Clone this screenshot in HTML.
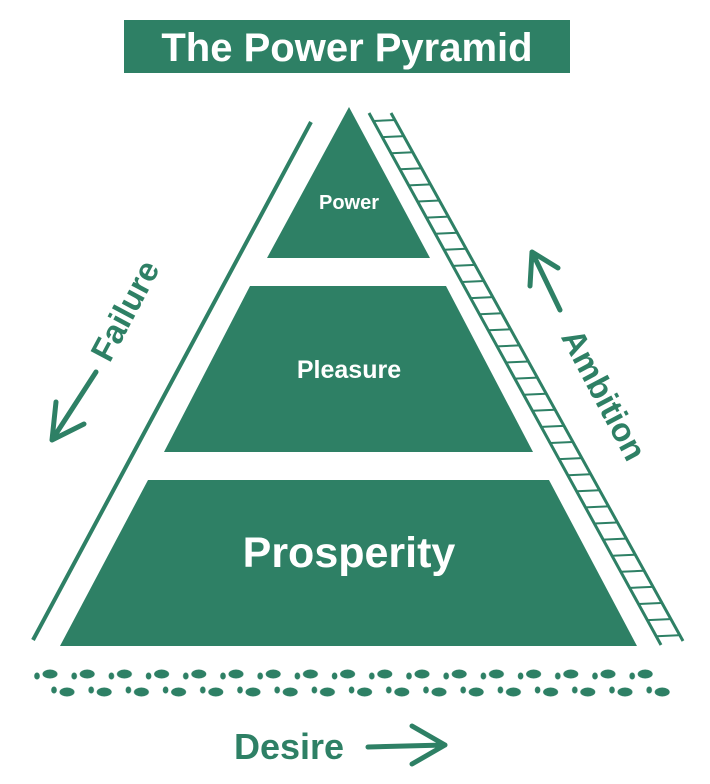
<!DOCTYPE html>
<html><head><style>body{margin:0;background:#fff}svg{display:block}</style></head><body>
<svg width="710" height="784" viewBox="0 0 710 784" xmlns="http://www.w3.org/2000/svg" font-family="Liberation Sans, sans-serif">
<defs>
<pattern id="f1" x="30" y="664" width="37.2" height="22" patternUnits="userSpaceOnUse">
<ellipse cx="7" cy="12" rx="2.8" ry="3.5" fill="#2e8065"/><ellipse cx="20" cy="10" rx="7.5" ry="4.5" fill="#2e8065"/>
</pattern>
<pattern id="f2" x="47" y="680" width="37.2" height="22" patternUnits="userSpaceOnUse">
<ellipse cx="7" cy="10" rx="2.8" ry="3.5" fill="#2e8065"/><ellipse cx="20" cy="12" rx="7.5" ry="4.5" fill="#2e8065"/>
</pattern>
</defs>
<rect x="124" y="20" width="446" height="53" fill="#2e8065"/>
<text x="347" y="61" text-anchor="middle" fill="#fff" font-size="40" font-weight="bold">The Power Pyramid</text>
<g fill="#2e8065">
<polygon points="349,107 430,258 267,258"/>
<polygon points="250,286 446,286 533,452 164,452"/>
<polygon points="148,480 549,480 637,646 60,646"/>
</g>
<line x1="311" y1="122" x2="33" y2="640" stroke="#2e8065" stroke-width="4"/>
<g stroke="#2e8065" stroke-width="3">
<line x1="369" y1="113" x2="661" y2="645"/>
<line x1="391" y1="113" x2="683" y2="641"/>
</g>
<path stroke="#2e8065" stroke-width="2" fill="none" d="M373.4,121l22,-1M382.3,137.1l22,-1M391.1,153.2l22,-1M400,169.3l22,-1M408.8,185.4l22,-1M417.7,201.5l22,-1M426.5,217.6l22,-1M435.4,233.7l22,-1M444.2,249.8l22,-1M453.1,265.9l22,-1M461.9,282l22,-1M470.8,298.1l22,-1M479.6,314.2l22,-1M488.5,330.3l22,-1M497.3,346.4l22,-1M506.2,362.5l22,-1M515,378.6l22,-1M523.9,394.7l22,-1M532.7,410.8l22,-1M541.6,426.9l22,-1M550.4,443l22,-1M559.3,459.1l22,-1M568.1,475.2l22,-1M577,491.3l22,-1M585.8,507.4l22,-1M594.7,523.5l22,-1M603.5,539.6l22,-1M612.4,555.7l22,-1M621.2,571.8l22,-1M630.1,587.9l22,-1M638.9,604l22,-1M647.8,620.1l22,-1M656.6,636.2l22,-1"/>
<text x="349" y="209" text-anchor="middle" fill="#fff" font-size="20" font-weight="bold">Power</text>
<text x="349" y="378" text-anchor="middle" fill="#fff" font-size="25" font-weight="bold">Pleasure</text>
<text x="349" y="567" text-anchor="middle" fill="#fff" font-size="43" font-weight="bold">Prosperity</text>
<text transform="translate(135,316) rotate(-62)" text-anchor="middle" fill="#2e8065" font-size="33" font-weight="bold">Failure</text>
<text transform="translate(594,400) rotate(62)" text-anchor="middle" fill="#2e8065" font-size="33" font-weight="bold">Ambition</text>
<g stroke="#2e8065" stroke-width="5" fill="none" stroke-linecap="round" stroke-linejoin="round">
<path d="M96,372 L52,440 M52,440 L56,402 M52,440 L84,424"/>
<path d="M560,310 L532,252 M532,252 L530,286 M532,252 L558,268"/>
<path d="M368,747 L445,745 M445,745 L412,726 M445,745 L412,764"/>
</g>
<text x="289" y="759" text-anchor="middle" fill="#2e8065" font-size="36" font-weight="bold">Desire</text>
<rect x="30" y="664" width="633" height="22" fill="url(#f1)"/>
<rect x="47" y="680" width="633" height="22" fill="url(#f2)"/>
</svg>
</body></html>
